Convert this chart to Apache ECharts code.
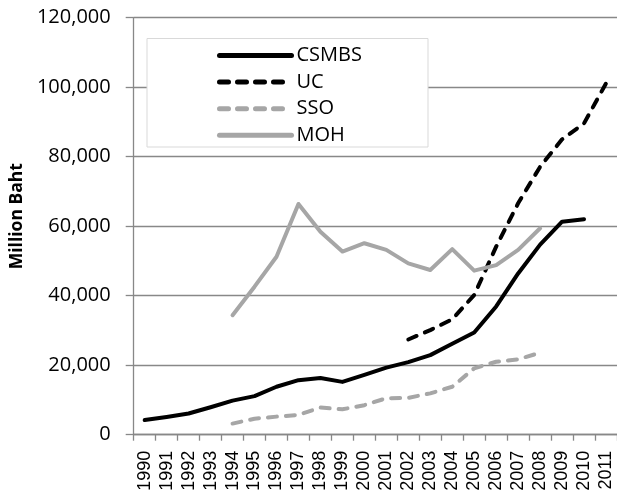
<!DOCTYPE html>
<html>
<head>
<meta charset="utf-8">
<script src="https://cdn.jsdelivr.net/npm/echarts@6/dist/echarts.min.js"></script>
<style>
  html, body { margin: 0; padding: 0; background: #fff; }
  #chart { width: 617px; height: 501px; }
</style>
</head>
<body>
<div id="chart"></div>
<script>
// years on the x axis
var years = ['1990', '1991', '1992', '1993', '1994', '1995', '1996', '1997', '1998', '1999', '2000',
             '2001', '2002', '2003', '2004', '2005', '2006', '2007', '2008', '2009', '2010', '2011'];
// spending, million baht (null = no data)
var csmbs = [4200, 5100, 6100, 7900, 9800, 11100, 13800, 15700, 16300, 15200, 17200,
             19300, 20900, 22900, 26200, 29400, 36900, 46400, 54700, 61300, 62000, null];
var uc = [null, null, null, null, null, null, null, null, null, null, null,
          null, 27400, 30100, 33200, 40200, 54100, 66600, 77100, 85000, 89600, 101100];
var sso = [null, null, null, null, 3200, 4600, 5200, 5700, 7800, 7300, 8500,
           10500, 10600, 11900, 13800, 19100, 21000, 21700, 23600, null, null, null];
var moh = [null, null, null, null, 34400, 42600, 51200, 66400, 58400, 52700, 55100,
           53200, 49300, 47400, 53400, 47200, 48800, 53200, 59400, null, null, null];
var yTicks = { min: 0, max: 120000, step: 20000 };

var chart = echarts.init(document.getElementById('chart'));

function mkLine(name, data, color, dashed) {
    return {
        name: name,
        type: 'line',
        data: data,
        symbol: 'none',
        connectNulls: false,
        lineStyle: {
            color: color,
            width: 4,
            type: dashed ? [9, 9] : 'solid',
            cap: 'round',
            join: 'round'
        },
        itemStyle: { color: color }
    };
}

var option = {
    animation: false,
    backgroundColor: '#fff',
    grid: { left: 133, top: 17.7, width: 490.6, height: 417 },
    graphic: [{
        type: 'rect',
        z: 3,
        shape: { x: 147, y: 38.5, width: 281, height: 108.5 },
        style: { fill: '#fff', stroke: '#d9d9d9', lineWidth: 1 }
    }],
    legend: {
        orient: 'vertical',
        left: 212,
        top: 40.5,
        z: 5,
        itemWidth: 72,
        itemHeight: 14,
        itemGap: 6.6,
        itemStyle: { opacity: 0 },
        lineStyle: { width: 5, cap: 'round' },
        textStyle: { fontFamily: 'Open Sans', fontSize: 20, color: '#000' },
        data: ['CSMBS', 'UC', 'SSO', 'MOH']
    },
    xAxis: {
        type: 'category',
        data: years,
        boundaryGap: true,
        axisLine: { lineStyle: { color: '#888', width: 1.3 } },
        axisTick: { show: true, length: 6, lineStyle: { color: '#888', width: 1.3 } },
        axisLabel: {
            rotate: 90,
            interval: 0,
            margin: 16,
            fontFamily: 'Liberation Sans',
            fontSize: 18,
            color: '#000'
        },
        splitLine: { show: false }
    },
    yAxis: {
        type: 'value',
        min: yTicks.min,
        max: yTicks.max,
        interval: yTicks.step,
        name: 'Million Baht',
        nameLocation: 'middle',
        nameGap: 101,
        nameTextStyle: { fontFamily: 'Open Sans', fontWeight: 'bold', fontSize: 17.5, color: '#000', padding: [0, 0, 0, 20] },
        axisLine: { show: true, lineStyle: { color: '#888', width: 1.3 } },
        axisTick: { show: true, length: 8, lineStyle: { color: '#888', width: 1.3 } },
        axisLabel: {
            margin: 23,
            fontFamily: 'Open Sans',
            fontSize: 20,
            color: '#000',
            formatter: function (v) { return v.toLocaleString('en-US'); }
        },
        splitLine: { lineStyle: { color: '#888', width: 1.3 } }
    },
    series: [
        mkLine('CSMBS', csmbs, '#000', false),
        mkLine('UC', uc, '#000', true),
        mkLine('SSO', sso, '#a6a6a6', true),
        mkLine('MOH', moh, '#a6a6a6', false)
    ]
};

chart.setOption(option);
</script>
</body>
</html>
